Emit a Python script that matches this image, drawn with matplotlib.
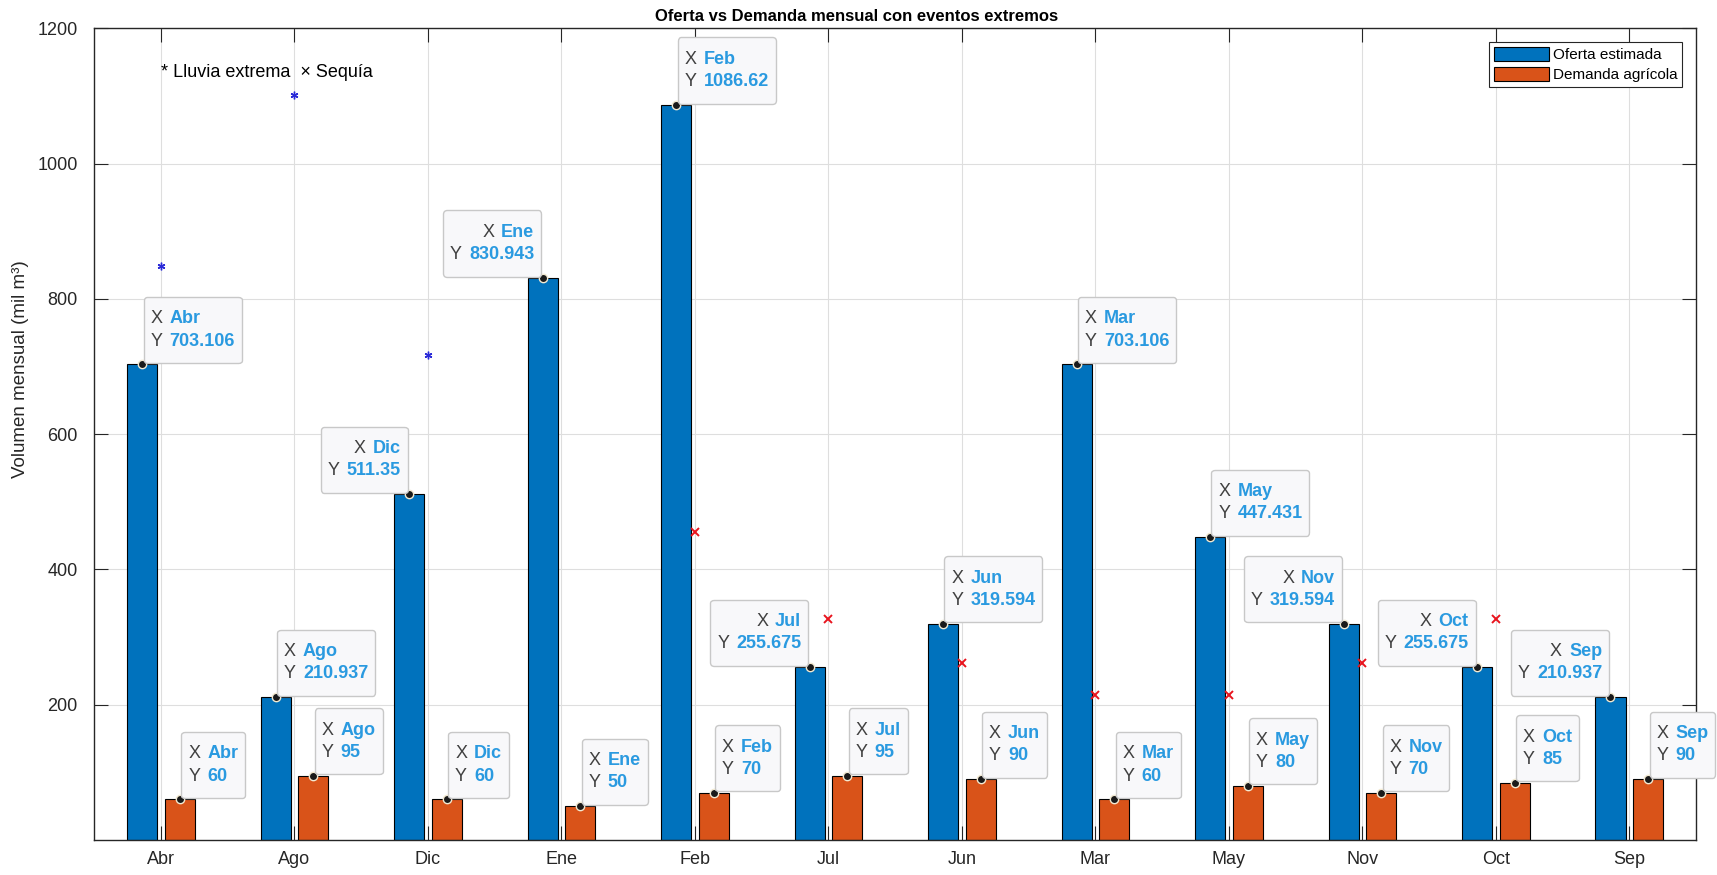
import numpy as np
import matplotlib
matplotlib.use("Agg")
import matplotlib.pyplot as plt
from matplotlib.offsetbox import AnnotationBbox, TextArea, HPacker, VPacker, DrawingArea

plt.rcParams['font.family'] = ['Liberation Sans', 'DejaVu Sans']

# datos (orden alfabetico de las categorias, como en el grafico)
meses = ['Abr', 'Ago', 'Dic', 'Ene', 'Feb', 'Jul', 'Jun', 'Mar', 'May', 'Nov', 'Oct', 'Sep']
oferta = [703.106, 210.937, 511.35, 830.943, 1086.62, 255.675, 319.594, 703.106, 447.431, 319.594, 255.675, 210.937]
demanda = [60, 95, 60, 50, 70, 95, 90, 60, 80, 70, 85, 90]

# eventos extremos (posicion en el eje x, valor)
lluvia_x = [1, 2, 3]
lluvia_y = [848, 1102, 717]
sequia_x = [5, 6, 7, 8, 9, 10, 11]
sequia_y = [456, 326, 261, 215, 215, 261, 326]

# lado del datatip de la oferta: R = derecha, L = izquierda
lado_oferta = ['R', 'R', 'L', 'L', 'R', 'L', 'R', 'R', 'R', 'L', 'L', 'L']

AZUL = '#0072BD'
NARANJA = '#D95319'
GRIS = '#262626'
VALOR = '#2a9ae0'


def datatip(ax, x, y, nombre, valor, lado='R'):
    fs = 13
    normal = dict(color='#404040', fontsize=fs)
    negrita = dict(color=VALOR, fontsize=fs, fontweight='bold')
    fila1 = HPacker(children=[TextArea('X', textprops=normal),
                              TextArea(nombre, textprops=negrita)],
                    align='baseline', sep=5, pad=0)
    fila2 = HPacker(children=[TextArea('Y', textprops=normal),
                              TextArea(valor, textprops=negrita)],
                    align='baseline', sep=5, pad=0)
    # separadores invisibles arriba y abajo para dar altura a la caja
    caja = VPacker(children=[DrawingArea(1, 1), fila1, fila2, DrawingArea(1, 1)],
                   align='left' if lado == 'R' else 'right', sep=3.7, pad=0)
    dx = 6 if lado == 'R' else -6
    ab = AnnotationBbox(caja, (x, y), xybox=(dx, 6), xycoords='data',
                        boxcoords='offset points',
                        box_alignment=(0, 0) if lado == 'R' else (1, 0),
                        fontsize=10, annotation_clip=False,
                        bboxprops=dict(boxstyle='round,pad=0.5,rounding_size=0.25',
                                       fc='#f8f8fa', ec='#c8c8c8', lw=1.0),
                        zorder=7)
    ax.add_artist(ab)


fig = plt.figure(figsize=(17.17, 8.75), dpi=100)
ax = fig.add_axes([0.0549, 0.04, 0.9329, 0.9277])

x = np.arange(1, len(meses) + 1)
w = 0.225
off = 0.141

ax.bar(x - off, oferta, w, color=AZUL, edgecolor='k', lw=0.8, label='Oferta estimada', zorder=2)
ax.bar(x + off, demanda, w, color=NARANJA, edgecolor='k', lw=0.8, label='Demanda agrícola', zorder=2)

# puntos de los datatips
ax.plot(x - off, oferta, 'o', ms=6, mfc='#1a1a1a', mec='#f3ead2', mew=1, zorder=6)
ax.plot(x + off, demanda, 'o', ms=6, mfc='#1a1a1a', mec='#f3ead2', mew=1, zorder=6)

ax.plot(lluvia_x, lluvia_y, ls='none', marker=(6, 2, 0), color='#2a2ad8', ms=5.5, mew=1.0, zorder=3)
ax.plot(sequia_x, sequia_y, ls='none', marker='x', color='#e8141e', ms=6, mew=1.4, zorder=3)

ax.text(1, 1135, '* Lluvia extrema  × Sequía', fontsize=13, va='center', ha='left', color='k')

for i in range(len(meses)):
    datatip(ax, x[i] - off, oferta[i], meses[i], '{:g}'.format(oferta[i]), lado_oferta[i])
    datatip(ax, x[i] + off, demanda[i], meses[i], '{:g}'.format(demanda[i]), 'R')

ax.set_xlim(0.5, 12.5)
ax.set_ylim(0, 1200)
ax.set_xticks(x)
ax.set_xticklabels(meses)
ax.set_yticks([200, 400, 600, 800, 1000, 1200])

ax.grid(True, color='#dedede', lw=0.8)
ax.set_axisbelow(True)
ax.tick_params(direction='in', length=10, width=0.8, top=True, right=True,
               labelsize=13, colors=GRIS)
ax.tick_params(axis='x', pad=8)
ax.tick_params(axis='y', pad=12)
for s in ax.spines.values():
    s.set_color(GRIS)
    s.set_linewidth(1.0)

ax.set_title('Oferta vs Demanda mensual con eventos extremos', fontsize=12,
             fontweight='bold', pad=5, x=0.476)
ax.set_ylabel('Volumen mensual (mil m³)', fontsize=13.5, color=GRIS)
ax.yaxis.set_label_coords(-0.041, 0.58)

leg = ax.legend(loc='upper right', fontsize=11, fancybox=False, framealpha=1,
                edgecolor=GRIS, handlelength=3.6, handleheight=1.1,
                labelspacing=0.3, handletextpad=0.3, borderpad=0.3,
                borderaxespad=0.9)
leg.get_frame().set_linewidth(0.8)

fig.savefig('out.png', dpi=100)
